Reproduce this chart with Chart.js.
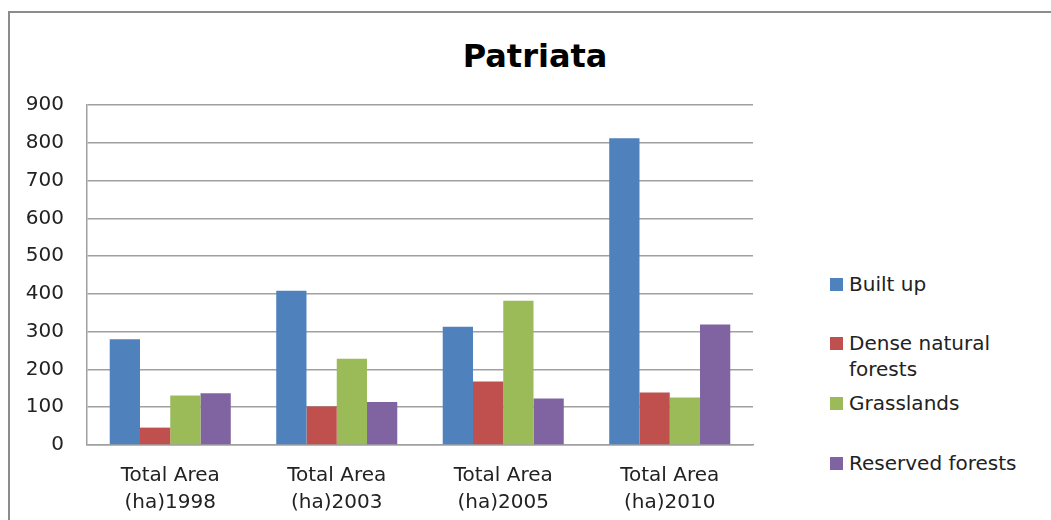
<!DOCTYPE html>
<html>
<head>
	<meta charset="UTF-8">
	<title>Patriata</title>
	<script src="https://cdn.jsdelivr.net/npm/chart.js"></script>
	<style>
	body{margin:0; background:#fff; width:1051px; height:520px; overflow:hidden; position:relative; font-family:"DejaVu Sans", sans-serif;}
	#frame{position:absolute; left:8px; top:11px; width:1100px; height:600px; border:2px solid #8c8c8c;}
	#title{position:absolute; left:0; top:37px; width:1070px; text-align:center; font-weight:bold; font-size:32px; line-height:38px; color:#000;}
	#chartBox{position:absolute; left:0; top:0; width:760px; height:520px;}
	.lg{position:absolute; left:830px; width:215px; font-size:20px; line-height:26px; color:#222;}
	.lg span.box{position:absolute; left:0; top:7px; width:13px; height:13px;}
	.lg span.txt{display:block; margin-left:19px; width:180px;}
	</style>
</head>
<body>
	<div id="frame"></div>
	<div id="title">Patriata</div>
	<div id="chartBox">
		<canvas id="myChart"></canvas>
	</div>
	<div id="legend"></div>
	<script>
	// 데이터
	const categories = [['Total Area', '(ha)1998'], ['Total Area', '(ha)2003'], ['Total Area', '(ha)2005'], ['Total Area', '(ha)2010']];
	const seriesNames = ['Built up', 'Dense natural forests', 'Grasslands', 'Reserved forests'];
	const builtUp = [280, 408, 313, 812];
	const denseForests = [46, 102, 168, 139];
	const grasslands = [131, 228, 382, 126];
	const reservedForests = [137, 114, 123, 319];
	const yTicks = [0, 100, 200, 300, 400, 500, 600, 700, 800, 900];

	const colors = ['#4F81BD', '#C0504D', '#9BBB59', '#8064A2'];
	const values = [builtUp, denseForests, grasslands, reservedForests];

	const datasets = seriesNames.map(function(name, i){
		return {
			label: name,
			data: values[i],
			backgroundColor: colors[i],
			borderWidth: 0,
			categoryPercentage: 0.727,
			barPercentage: 1
		};
	});

	const tickFont = {family: 'DejaVu Sans', size: 20, lineHeight: '27px'};

	const ctx = document.getElementById('myChart');
	new Chart(ctx, {
		type: 'bar',
		data: {labels: categories, datasets: datasets},
		options: {
			responsive: true,
			maintainAspectRatio: false,
			animation: false,
			layout: {padding: {top: 105, right: 7, left: 0, bottom: 0}},
			plugins: {
				legend: {display: false},
				tooltip: {enabled: false},
				title: {display: false}
			},
			scales: {
				x: {
					grid: {display: false},
					border: {display: true, color: '#a0a0a0', width: 1.5},
					ticks: {font: tickFont, color: '#222', padding: 9, maxRotation: 0, autoSkip: false},
					afterFit: function(s){ s.height = 75; }
				},
				y: {
					min: yTicks[0],
					max: yTicks[yTicks.length - 1],
					afterBuildTicks: function(s){ s.ticks = yTicks.map(function(v){ return {value: v}; }); },
					grid: {color: '#a0a0a0', lineWidth: 1.5, drawTicks: false},
					border: {display: true, color: '#a0a0a0', width: 1.5},
					ticks: {font: tickFont, color: '#222', padding: 23},
					afterFit: function(s){ s.width = 87; }
				}
			}
		}
	});

	// 범례
	const legend = document.getElementById('legend');
	seriesNames.forEach(function(name, i){
		const item = document.createElement('div');
		item.className = 'lg';
		item.style.top = (270.5 + i * 59.7) + 'px';
		item.innerHTML = '<span class="box" style="background:' + colors[i] + '"></span><span class="txt">' + name + '</span>';
		legend.appendChild(item);
	});
	</script>
</body>
</html>
